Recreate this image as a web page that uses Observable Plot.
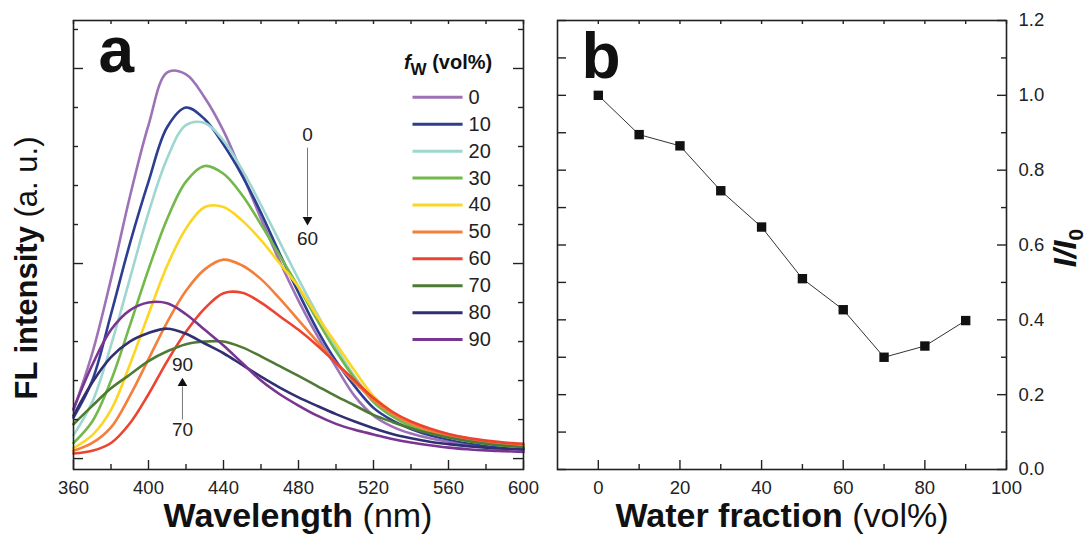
<!DOCTYPE html>
<html><head><meta charset="utf-8">
<script src="https://cdn.jsdelivr.net/npm/d3@7"></script>
<script src="https://cdn.jsdelivr.net/npm/@observablehq/plot@0.6"></script>
<style>
body{margin:0;background:#fff;}
#fig{position:relative;width:1090px;height:535px;background:#fff;font-family:"Liberation Sans",Arial,sans-serif;}
#fig svg{position:absolute;top:0;}
</style></head><body><div id="fig"></div>
<script>
// ---------- Panel a data ----------
const wavelengths = [360,370,380,390,400,410,420,430,440,450,460,470,480,490,500,510,520,530,540,550,560,570,580,590,600];
const fl0  = [1.25,2.7,4.6,6.7,8.55,9.9,9.85,9.25,8.4,7.3,6.15,5.05,4.05,3.15,2.35,1.6,1.1,0.82,0.64,0.52,0.43,0.36,0.31,0.27,0.24];
const fl10 = [1.05,2.0,3.7,5.5,7.1,8.5,9.0,8.7,8.05,7.25,6.3,5.25,4.25,3.3,2.5,1.85,1.3,0.98,0.76,0.6,0.49,0.4,0.34,0.3,0.27];
const fl20 = [0.6,1.45,2.9,4.6,6.3,7.7,8.55,8.6,8.15,7.4,6.5,5.55,4.6,3.7,2.85,2.1,1.5,1.12,0.86,0.68,0.55,0.45,0.38,0.33,0.3];
const fl30 = [0.4,0.95,2.0,3.4,4.85,6.15,7.1,7.5,7.3,6.75,6.0,5.2,4.4,3.55,2.75,2.05,1.45,1.08,0.83,0.66,0.54,0.45,0.38,0.33,0.3];
const fl40 = [0.27,0.6,1.25,2.4,3.7,4.95,5.9,6.45,6.45,6.1,5.6,5.0,4.4,3.65,2.95,2.25,1.6,1.2,0.92,0.72,0.58,0.48,0.4,0.35,0.32];
const fl50 = [0.2,0.4,0.8,1.6,2.55,3.5,4.3,4.85,5.1,4.95,4.6,4.1,3.55,3.0,2.45,1.95,1.5,1.15,0.9,0.72,0.59,0.49,0.42,0.37,0.34];
const fl60 = [0.13,0.2,0.4,0.9,1.65,2.5,3.25,3.85,4.24,4.25,4.0,3.65,3.3,2.9,2.45,2.0,1.55,1.2,0.95,0.77,0.63,0.53,0.46,0.41,0.38];
const fl70 = [0.88,1.35,1.8,2.15,2.5,2.75,2.93,3.0,3.0,2.85,2.62,2.37,2.12,1.86,1.6,1.36,1.12,0.94,0.78,0.65,0.54,0.45,0.38,0.33,0.29];
const fl80 = [1.1,1.95,2.6,3.0,3.22,3.33,3.2,2.95,2.7,2.4,2.1,1.82,1.57,1.35,1.14,0.95,0.78,0.63,0.52,0.43,0.37,0.32,0.28,0.25,0.23];
const fl90 = [1.27,2.4,3.3,3.8,4.0,3.98,3.7,3.3,2.9,2.45,2.0,1.65,1.36,1.1,0.89,0.74,0.62,0.5,0.41,0.34,0.28,0.24,0.21,0.19,0.17];
const seriesNames  = ["0","10","20","30","40","50","60","70","80","90"];
const seriesColors = ["#9d72b6","#2d3e92","#9dd7d0","#72b84a","#fdd523","#f47f3a","#ec4430","#4e7a35","#312f72","#7a3592"];
const seriesValues = [fl0,fl10,fl20,fl30,fl40,fl50,fl60,fl70,fl80,fl90];
const xTickLabelsA = [360,400,440,480,520,560,600];
const xMinorA = [380,420,460,500,540,580];
const yMajorA = [0,5,10];
const yMinorA = [1,2,3,4,6,7,8,9,11];
const annotTextsA = [{t:"0",x:484.8,y:8.31},{t:"60",x:484.8,y:5.62},{t:"90",x:418.1,y:2.41},{t:"70",x:418.1,y:0.74}];
const annotArrowsA = [{x:484.8,y1:7.97,y2:6.2,head:6.12,rot:180},{x:418.1,y1:1.0,y2:1.85,head:1.93,rot:0}];

// ---------- Panel b data ----------
const waterFraction = [0,10,20,30,40,50,60,70,80,90];
const relIntensity  = [1.0,0.895,0.865,0.745,0.648,0.51,0.427,0.30,0.33,0.398];
const xTickLabelsB = [0,20,40,60,80,100];
const xMinorB = [10,30,50,70,90];
const yTickLabelsB = [0,0.2,0.4,0.6,0.8,1.0,1.2];
const yMinorB = [0.1,0.3,0.5,0.7,0.9,1.1];

const FONT = '"Liberation Sans", Arial, sans-serif';
const INK = "#222";
const H = 535, mT = 20, mB = 66, fH = H - mT - mB;

const rowsA = [];
seriesNames.forEach((s, i) => wavelengths.forEach((w, j) => rowsA.push({wl: w, v: seriesValues[i][j], s})));

// legend layout (in data units of panel a)
const legendRows = seriesNames.map((s, i) => ({s, y: 9.26 - i * 0.69}));

const fAw = 450;
const chartA = Plot.plot({
  width: 545, height: H, marginLeft: 73, marginRight: 22, marginTop: mT, marginBottom: mB,
  x: {domain: [360, 600], label: null},
  y: {domain: [-0.28, 11.23], axis: null},
  color: {domain: seriesNames, range: seriesColors},
  style: {fontFamily: FONT, fontSize: "18.5px", color: INK, background: "transparent"},
  marks: [
    Plot.line(rowsA, {x: "wl", y: "v", z: "s", stroke: "s", strokeWidth: 2.6, curve: "catmull-rom"}),
    Plot.frame({stroke: INK, strokeWidth: 1.6}),
    Plot.tickX(xTickLabelsA, {x: d => d, stroke: INK, strokeWidth: 1.4, insetTop: fH - 9}),
    Plot.tickX(xMinorA, {x: d => d, stroke: INK, strokeWidth: 1.4, insetTop: fH - 5}),
    Plot.tickX(xTickLabelsA.concat(xMinorA), {x: d => d, stroke: INK, strokeWidth: 1.4, insetBottom: fH - 4}),
    Plot.tickY(yMajorA, {y: d => d, stroke: INK, strokeWidth: 1.4, insetRight: fAw - 10}),
    Plot.tickY(yMinorA, {y: d => d, stroke: INK, strokeWidth: 1.4, insetRight: fAw - 5}),
    Plot.tickY(yMajorA, {y: d => d, stroke: INK, strokeWidth: 1.4, insetLeft: fAw - 10}),
    Plot.tickY(yMinorA, {y: d => d, stroke: INK, strokeWidth: 1.4, insetLeft: fAw - 5}),
    Plot.axisX({ticks: xTickLabelsA, tickSize: 0, tickPadding: 11, fontSize: 18.5, fill: INK}),
    // legend
    Plot.link(legendRows, {x1: 540.8, x2: 567.5, y1: "y", y2: "y", stroke: "s", strokeWidth: 3}),
    Plot.text(legendRows, {x: 570.7, y: "y", text: "s", textAnchor: "start", fontSize: 20, fill: INK}),
    // annotations
    Plot.text(annotTextsA, {x: "x", y: "y", text: "t", fontSize: 19, fill: INK}),
    Plot.link(annotArrowsA, {x1: "x", x2: "x", y1: "y1", y2: "y2", stroke: "#777", strokeWidth: 1}),
    Plot.dot(annotArrowsA, {x: "x", y: "head", symbol: "triangle", r: 3.6, fill: "#111", stroke: "none", rotate: "rot"}),
    Plot.text(["a"], {frameAnchor: "top-left", dx: 25, dy: 51, lineAnchor: "bottom", textAnchor: "start", fontSize: 64, fontWeight: "bold", fill: "#111"})
  ]
});

const fBw = 449;
const chartB = Plot.plot({
  width: 545, height: H, marginLeft: 12, marginRight: 84, marginTop: mT, marginBottom: mB,
  x: {domain: [-10, 100], label: null},
  y: {domain: [0, 1.2], label: null},
  style: {fontFamily: FONT, fontSize: "18.5px", color: INK, background: "transparent"},
  marks: [
    Plot.frame({stroke: INK, strokeWidth: 1.6}),
    Plot.tickX(xTickLabelsB, {x: d => d, stroke: INK, strokeWidth: 1.4, insetTop: fH - 9}),
    Plot.tickX(xMinorB, {x: d => d, stroke: INK, strokeWidth: 1.4, insetTop: fH - 5}),
    Plot.tickX(xTickLabelsB.concat(xMinorB), {x: d => d, stroke: INK, strokeWidth: 1.4, insetBottom: fH - 4}),
    Plot.tickY(yTickLabelsB.concat(yMinorB), {y: d => d, stroke: INK, strokeWidth: 1.4, insetRight: fBw - 9}),
    Plot.tickY(yTickLabelsB, {y: d => d, stroke: INK, strokeWidth: 1.4, insetLeft: fBw - 9}),
    Plot.tickY(yMinorB, {y: d => d, stroke: INK, strokeWidth: 1.4, insetLeft: fBw - 5}),
    Plot.axisX({ticks: xTickLabelsB, tickSize: 0, tickPadding: 11, fontSize: 18.5, fill: INK}),
    Plot.axisY({anchor: "right", ticks: yTickLabelsB, tickSize: 0, tickPadding: 12, tickFormat: d => d.toFixed(1), fontSize: 18.5, fill: INK}),
    Plot.line(waterFraction.map((x, i) => ({x, y: relIntensity[i]})), {x: "x", y: "y", stroke: "#333", strokeWidth: 1}),
    Plot.dot(waterFraction.map((x, i) => ({x, y: relIntensity[i]})), {x: "x", y: "y", symbol: "square", r: 5.3, fill: "#111", stroke: "none"}),
    Plot.text(["b"], {frameAnchor: "top-left", dx: 24, dy: 57, lineAnchor: "bottom", textAnchor: "start", fontSize: 64, fontWeight: "bold", fill: "#111"})
  ]
});

const fig = document.getElementById("fig");
chartA.style.left = "0px";
chartB.style.left = "545px";
fig.appendChild(chartA);
fig.appendChild(chartB);

// axis titles & legend title
const sA = d3.select(chartA), sB = d3.select(chartB);
const xa = chartA.scale("x"), ya = chartA.scale("y");

const t1 = sA.append("text").attr("x", 298).attr("y", 527).attr("text-anchor", "middle")
  .attr("font-size", 34).attr("font-family", FONT).attr("fill", "#111");
t1.append("tspan").attr("font-weight", "bold").text("Wavelength");
t1.append("tspan").text(" (nm)");

const t2 = sA.append("text").attr("transform", "translate(37,268) rotate(-90)").attr("text-anchor", "middle")
  .attr("font-size", 31).attr("font-family", FONT).attr("fill", "#111");
t2.append("tspan").attr("font-weight", "bold").text("FL intensity");
t2.append("tspan").text(" (a. u.)");

const t3 = sA.append("text").attr("x", xa.apply(536.5)).attr("y", ya.apply(9.97)).attr("text-anchor", "start")
  .attr("font-size", 20).attr("font-weight", "bold").attr("font-family", FONT).attr("fill", "#111");
t3.append("tspan").attr("font-style", "italic").text("f");
t3.append("tspan").attr("font-size", 17).attr("dy", 6).text("W");
t3.append("tspan").attr("dy", -6).text(" (vol%)");

const t4 = sB.append("text").attr("x", 237).attr("y", 527).attr("text-anchor", "middle")
  .attr("font-size", 34).attr("font-family", FONT).attr("fill", "#111");
t4.append("tspan").attr("font-weight", "bold").text("Water fraction");
t4.append("tspan").text(" (vol%)");

const t5 = sB.append("text").attr("transform", "translate(531,248) rotate(-90)").attr("text-anchor", "middle")
  .attr("font-size", 32).attr("font-weight", "bold").attr("font-family", FONT).attr("fill", "#111");
t5.append("tspan").attr("font-style", "italic").text("I/I");
t5.append("tspan").attr("font-size", 21).attr("dy", 7).text("0");
</script>
</body></html>
